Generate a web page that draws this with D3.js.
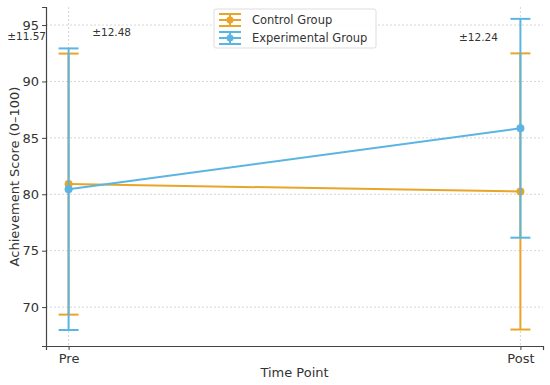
<!DOCTYPE html>
<html>
<head>
<meta charset="utf-8">
<script src="https://cdn.jsdelivr.net/npm/d3@7"></script>
<style>
  body { margin: 0; background: #fff; }
  text { font-family: "DejaVu Sans", sans-serif; fill: #333; }
</style>
</head>
<body>
<div id="chart-area"></div>
<script>
// data
var timePoints = ["Pre", "Post"];
var groups = ["Control Group", "Experimental Group"];
var controlMeans = [80.9, 80.25];
var controlSD = [11.57, 12.24];
var expMeans = [80.45, 85.85];
var expSD = [12.48, 9.7];
var yTicks = [70, 75, 80, 85, 90, 95];
// annotations: [text, time index, y value]
var sdLabels = [["±11.57", 0, 93.7], ["±12.48", 0, 94.05], ["±12.24", 1, 93.6]];

var colors = ["#E9A528", "#5BB5E2"];

var margin = {left: 46, right: 7, top: 7, bottom: 39};
var width = 550 - margin.left - margin.right,
    height = 385 - margin.top - margin.bottom;

var svg = d3.select("#chart-area").append("svg")
    .attr("width", 550).attr("height", 385);
var g = svg.append("g")
    .attr("transform", "translate(" + margin.left + "," + margin.top + ")");

var x = d3.scaleLinear().domain([-0.05, 1.05]).range([0, width]);
var y = d3.scaleLinear().domain([66.55, 96.6]).range([height, 0]);

// grid
g.selectAll(".hgrid").data(yTicks).enter().append("line")
    .attr("x1", 0).attr("x2", width)
    .attr("y1", d => y(d)).attr("y2", d => y(d))
    .attr("stroke", "#ccc").attr("stroke-width", 0.8).attr("stroke-dasharray", "2,2");
g.selectAll(".vgrid").data(timePoints).enter().append("line")
    .attr("x1", (d, i) => x(i)).attr("x2", (d, i) => x(i))
    .attr("y1", 0).attr("y2", height)
    .attr("stroke", "#ccc").attr("stroke-width", 0.8).attr("stroke-dasharray", "2,2");

// axes
var yAxis = g.append("g").call(d3.axisLeft(y).tickValues(yTicks).tickSize(4).tickPadding(3));
var xAxis = g.append("g").attr("transform", "translate(0," + height + ")")
    .call(d3.axisBottom(x).tickValues([0, 1]).tickFormat(i => timePoints[i]).tickSize(4).tickPadding(4));
[yAxis, xAxis].forEach(function(a) {
    a.select(".domain").attr("stroke", "#444").attr("stroke-width", 1.2);
    a.selectAll(".tick line").attr("stroke", "#444");
    a.selectAll("text").attr("font-size", 13).attr("font-family", "DejaVu Sans").attr("fill", "#333");
});

// series
var series = [
    {name: groups[0], means: controlMeans, sd: controlSD, color: colors[0]},
    {name: groups[1], means: expMeans, sd: expSD, color: colors[1]}
];
var cap = 10;
series.forEach(function(s) {
    var sg = g.append("g");
    s.means.forEach(function(m, i) {
        sg.append("line").attr("x1", x(i)).attr("x2", x(i))
            .attr("y1", y(m - s.sd[i])).attr("y2", y(m + s.sd[i]))
            .attr("stroke", s.color).attr("stroke-width", 2);
        [m - s.sd[i], m + s.sd[i]].forEach(function(v) {
            sg.append("line").attr("x1", x(i) - cap).attr("x2", x(i) + cap)
                .attr("y1", y(v)).attr("y2", y(v))
                .attr("stroke", s.color).attr("stroke-width", 2);
        });
    });
    sg.append("path").datum(s.means)
        .attr("d", d3.line().x((d, i) => x(i)).y(d => y(d)))
        .attr("fill", "none").attr("stroke", s.color).attr("stroke-width", 2);
    sg.selectAll("circle").data(s.means).enter().append("circle")
        .attr("cx", (d, i) => x(i)).attr("cy", d => y(d)).attr("r", 4)
        .attr("fill", s.color);
});

// sd annotations
var offsets = [-42, 43, -42];
sdLabels.forEach(function(l, k) {
    g.append("text").attr("x", x(l[1]) + offsets[k]).attr("y", y(l[2]))
        .attr("text-anchor", "middle").attr("font-size", 10.5).text(l[0]);
});

// axis labels
svg.append("text").attr("x", margin.left + width / 2).attr("y", 377)
    .attr("text-anchor", "middle").attr("font-size", 13).text("Time Point");
svg.append("text").attr("transform", "translate(19," + (margin.top + height / 2) + ") rotate(-90)")
    .attr("text-anchor", "middle").attr("font-size", 13).text("Achievement Score (0–100)");

// legend
var lg = svg.append("g").attr("transform", "translate(214,9)");
lg.append("rect").attr("width", 162).attr("height", 39).attr("rx", 2)
    .attr("fill", "#fff").attr("fill-opacity", 0.85).attr("stroke", "#ddd");
series.forEach(function(s, i) {
    var ly = 11 + i * 18;
    var e = lg.append("g").attr("transform", "translate(16," + ly + ")");
    e.append("line").attr("x1", -11).attr("x2", 11).attr("stroke", s.color).attr("stroke-width", 2);
    e.append("line").attr("y1", -6).attr("y2", 6).attr("stroke", s.color).attr("stroke-width", 2);
    [-6, 6].forEach(function(v) {
        e.append("line").attr("x1", -11).attr("x2", 11).attr("y1", v).attr("y2", v)
            .attr("stroke", s.color).attr("stroke-width", 2);
    });
    e.append("circle").attr("r", 3.5).attr("fill", s.color);
    lg.append("text").attr("x", 38).attr("y", ly + 4).attr("font-size", 11.5).text(s.name);
});
</script>
</body>
</html>
